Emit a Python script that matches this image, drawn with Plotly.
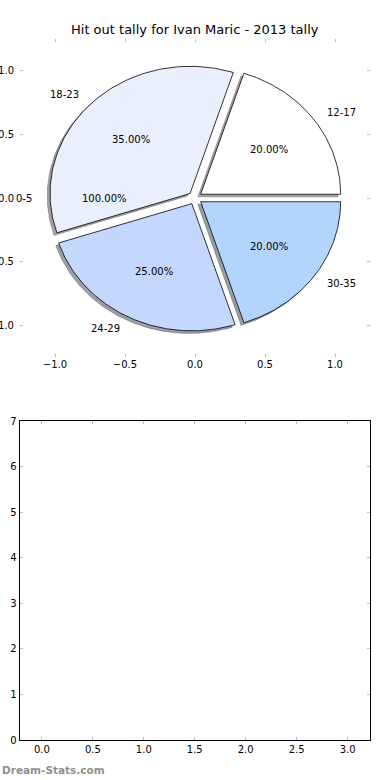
import numpy as np
import plotly.graph_objects as go

# ---------------- data ----------------
age_groups = ["12-17", "18-23", "0-5", "24-29", "30-35"]
hitout_share = [20, 35, 0, 25, 20]
pct_labels = ["20.00%", "35.00%", "100.00%", "25.00%", "20.00%"]
slice_colors = ["#ffffff", "#e9effc", "#ffffff", "#c4d7fd", "#b3d4fc"]

pie_ticks = [-1.0, -0.5, 0.0, 0.5, 1.0]
bottom_x_ticks = [0.0, 0.5, 1.0, 1.5, 2.0, 2.5, 3.0]
bottom_y_ticks = [0, 1, 2, 3, 4, 5, 6, 7]

title_text = "Hit out tally for Ivan Maric - 2013 tally"
watermark = "Dream-Stats.com"

# ---------------- pie geometry (matplotlib-style) ----------------
EXPLODE = 0.05
LABEL_DIST = 1.1
PCT_DIST = 0.6
SHADOW_OFF = -0.02
ZERO_SLICE_ANGLE = 180.0

FONT = "DejaVu Sans"
W, H = 390, 780

fig = go.Figure()

def hex_to_rgb(h):
    h = h.lstrip("#")
    return tuple(int(h[i:i + 2], 16) for i in (0, 2, 4))

total = float(sum(hitout_share))
theta = 0.0
wedges = []
for lab, val, pct, col in zip(age_groups, hitout_share, pct_labels, slice_colors):
    t1 = theta
    t2 = theta + 360.0 * val / total
    theta = t2
    mid = (t1 + t2) / 2 if val > 0 else ZERO_SLICE_ANGLE
    cx = EXPLODE * np.cos(np.radians(mid))
    cy = EXPLODE * np.sin(np.radians(mid))
    wedges.append((lab, val, pct, col, t1, t2, mid, cx, cy))

# shadows first (drawn beneath the wedges)
for lab, val, pct, col, t1, t2, mid, cx, cy in wedges:
    if val <= 0:
        continue
    a = np.radians(np.linspace(t1, t2, 120))
    xs = np.concatenate([[cx], cx + np.cos(a), [cx]]) + SHADOW_OFF
    ys = np.concatenate([[cy], cy + np.sin(a), [cy]]) + SHADOW_OFF
    r, g, b = hex_to_rgb(col)
    sc = f"rgba({int(r*0.3)},{int(g*0.3)},{int(b*0.3)},0.5)"
    fig.add_trace(go.Scatter(x=xs, y=ys, mode="lines", fill="toself",
                             fillcolor=sc, line=dict(color=sc, width=0.8),
                             hoverinfo="skip", showlegend=False,
                             xaxis="x", yaxis="y"))

for lab, val, pct, col, t1, t2, mid, cx, cy in wedges:
    if val <= 0:
        continue
    a = np.radians(np.linspace(t1, t2, 120))
    xs = np.concatenate([[cx], cx + np.cos(a), [cx]])
    ys = np.concatenate([[cy], cy + np.sin(a), [cy]])
    fig.add_trace(go.Scatter(x=xs, y=ys, mode="lines", fill="toself",
                             fillcolor=col, line=dict(color="black", width=0.8),
                             name=lab, showlegend=False,
                             xaxis="x", yaxis="y"))

annotations = []
for lab, val, pct, col, t1, t2, mid, cx, cy in wedges:
    ca, sa = np.cos(np.radians(mid)), np.sin(np.radians(mid))
    lx, ly = cx + LABEL_DIST * ca, cy + LABEL_DIST * sa
    annotations.append(dict(x=lx, y=ly, xref="x", yref="y", text=lab,
                            showarrow=False, xanchor="left" if lx > 0 else "right",
                            yanchor="middle", font=dict(family=FONT, size=10, color="black")))
    px, py = cx + PCT_DIST * ca, cy + PCT_DIST * sa
    annotations.append(dict(x=px, y=py, xref="x", yref="y", text=pct,
                            showarrow=False, xanchor="center", yanchor="middle",
                            font=dict(family=FONT, size=10, color="black")))

# empty bottom axes trace
fig.add_trace(go.Scatter(x=[], y=[], xaxis="x2", yaxis="y2", showlegend=False))

annotations.append(dict(x=195 / W, y=1 - 30 / H, xref="paper", yref="paper",
                        text=title_text, showarrow=False, xanchor="center", yanchor="middle",
                        font=dict(family=FONT, size=13, color="black")))
annotations.append(dict(x=0, y=1 - 770 / H, xref="paper", yref="paper",
                        text="<b>" + watermark + "</b>", showarrow=False,
                        xanchor="left", yanchor="middle",
                        font=dict(family=FONT, size=10.5, color="#8f8f8f")))

tick_gray = "#bdbdbd"
fig.update_layout(
    width=W, height=H,
    margin=dict(l=0, r=0, t=0, b=0, autoexpand=False),
    paper_bgcolor="white", plot_bgcolor="white",
    font=dict(family=FONT, size=10, color="black"),
    annotations=annotations,
    xaxis=dict(domain=[20 / W, 370 / W], range=[-1.25, 1.25], anchor="y",
               tickvals=pie_ticks, tickformat=".1f", ticks="inside", ticklen=3,
               tickcolor=tick_gray, tickwidth=1, showline=False, mirror="ticks",
               showgrid=False, zeroline=False, fixedrange=True, automargin=False),
    yaxis=dict(domain=[1 - 357 / H, 1 - 39 / H], range=[-1.25, 1.25], anchor="x",
               tickvals=pie_ticks, tickformat=".1f", ticks="inside", ticklen=3,
               tickcolor=tick_gray, tickwidth=1, showline=False, mirror="ticks",
               ticklabelstandoff=5, automargin=False,
               showgrid=False, zeroline=False, fixedrange=True),
    xaxis2=dict(domain=[19.5 / W, 370 / W], range=[-0.22, 3.22], anchor="y2",
                tickvals=bottom_x_ticks, tickformat=".1f", ticks="inside", ticklen=3,
                tickcolor=tick_gray, showline=True, linecolor="black", linewidth=1,
                mirror="ticks", showgrid=False, zeroline=False, fixedrange=True,
                automargin=False),
    yaxis2=dict(domain=[1 - 740 / H, 1 - 421 / H], range=[0, 7], anchor="x2",
                tickvals=bottom_y_ticks, ticks="inside", ticklen=3,
                tickcolor=tick_gray, showline=True, linecolor="black", linewidth=1,
                mirror="ticks", showgrid=False, zeroline=False, fixedrange=True,
                automargin=False),
)

fig.write_html("out.html", config={"displayModeBar": False},
               post_script="document.body.style.margin='0';")
